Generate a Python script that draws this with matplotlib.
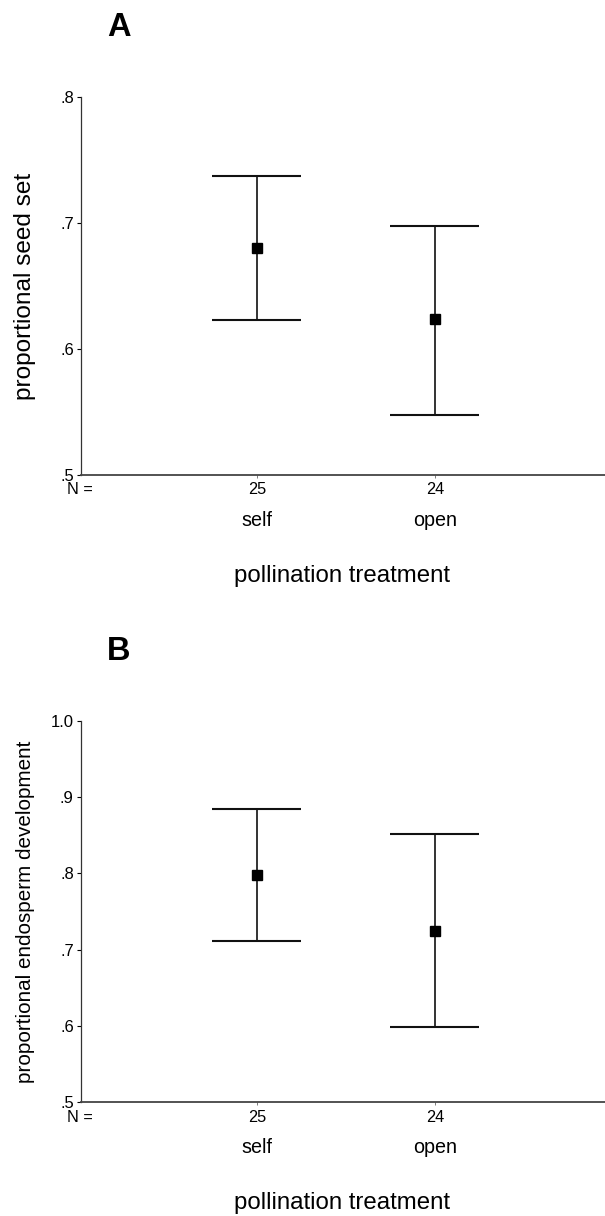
from matplotlib import pyplot as plt
from matplotlib import transforms
from matplotlib.ticker import FuncFormatter

plt.rcParams['font.family'] = ['Liberation Sans', 'DejaVu Sans']

treatments = ['self', 'open']
n_plants = [25, 24]

seed_mean = [0.680, 0.624]
seed_low = [0.623, 0.548]
seed_high = [0.737, 0.698]

endo_mean = [0.798, 0.725]
endo_low = [0.711, 0.599]
endo_high = [0.884, 0.851]


def fmt_prop(v, pos):
    s = '%.1f' % v
    return s[1:] if s.startswith('0') else s


def draw_panel(ax, means, lows, highs, ylim, yticks, ylabel, ylabel_size,
               letter, letter_y, px_h):
    X = [1, 2]
    ax.vlines(X, lows, highs, color='#111111', lw=1.2)
    ax.hlines(lows, [x - 0.25 for x in X], [x + 0.25 for x in X], color='#111111', lw=1.5)
    ax.hlines(highs, [x - 0.25 for x in X], [x + 0.25 for x in X], color='#111111', lw=1.5)
    ax.plot(X, means, 's', color='black', markersize=6.5, zorder=3)

    ax.set_xlim(0.01, 2.955)
    ax.set_ylim(*ylim)
    ax.set_yticks(yticks)
    ax.yaxis.set_major_formatter(FuncFormatter(fmt_prop))
    ax.tick_params(axis='y', length=3, width=0.8, labelsize=12, pad=2)
    ax.set_xticks(X)
    ax.set_xticklabels([])
    ax.tick_params(axis='x', length=2.5, width=0.6, color='#666666')

    for side in ['top', 'right']:
        ax.spines[side].set_visible(False)
    ax.spines['left'].set_linewidth(0.9)
    ax.spines['left'].set_color('#333333')
    ax.spines['bottom'].set_linewidth(1.3)
    ax.spines['bottom'].set_color('#444444')

    # rows under the axis, offsets in pixels turned into axes fractions
    trans = transforms.blended_transform_factory(ax.transData, ax.transAxes)
    n_y = -15 / px_h
    cat_y = -45 / px_h
    for x, n, t in zip(X, n_plants, treatments):
        ax.text(x, n_y, str(n), transform=trans, ha='center', va='center', fontsize=11.7)
        ax.text(x, cat_y, t, transform=trans, ha='center', va='center', fontsize=14.2)
    ax.text(-0.026, n_y, 'N =', transform=ax.transAxes, ha='left', va='center', fontsize=11.7)

    ax.set_xlabel('pollination treatment', fontsize=17.3, va='center')
    ax.xaxis.set_label_coords(0.498, -101 / px_h)
    ax.set_ylabel(ylabel, fontsize=ylabel_size, va='center')
    ax.yaxis.set_label_coords(-0.106, 0.5)

    ax.figure.text(119 / 605, letter_y, letter, fontsize=23.5, fontweight='bold',
                   ha='center', va='center')


fig = plt.figure(figsize=(6.05, 12.16), dpi=100)
left = 80.7 / 605
ax1 = fig.add_axes([left, 1 - 475 / 1216, 1 - left, 378 / 1216])
ax2 = fig.add_axes([left, 1 - 1102.3 / 1216, 1 - left, 381.6 / 1216])

draw_panel(ax1, seed_mean, seed_low, seed_high, (0.5, 0.8), [0.5, 0.6, 0.7, 0.8],
           'proportional seed set', 17.6, 'A', 1 - 28 / 1216, 378)
draw_panel(ax2, endo_mean, endo_low, endo_high, (0.5, 1.0), [0.5, 0.6, 0.7, 0.8, 0.9, 1.0],
           'proportional endosperm development', 14.9, 'B', 1 - 652 / 1216, 381.6)

fig.savefig('out.png', dpi=100)
